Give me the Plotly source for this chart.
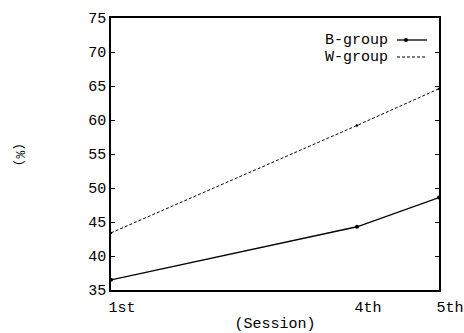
import plotly.graph_objects as go

sessions = [1, 4, 5]
session_labels = ["1st", "4th", "5th"]
b_group = [36.5, 44.3, 48.6]
w_group = [43.4, 59.2, 64.6]

FONT = "Liberation Mono"

W, H = 464, 333
l, r, t, b = 111, 25, 18, 43
pw, ph = W - l - r, H - t - b

def px(xp):
    return (xp - l) / pw

def py(yp):
    return (H - yp - b) / ph

fig = go.Figure()
fig.add_trace(go.Scatter(x=sessions, y=b_group, mode="lines+markers", name="B-group",
                         line=dict(color="black", width=1.3),
                         marker=dict(color="black", size=4), showlegend=False, cliponaxis=False))
fig.add_trace(go.Scatter(x=sessions, y=w_group, mode="lines+markers", name="W-group",
                         line=dict(color="black", width=1, dash="3px,2px"),
                         marker=dict(color="black", size=2.5), showlegend=False, cliponaxis=False))

# legend drawn as text + sample lines (labels right-aligned, samples to the right)
fig.add_annotation(x=px(389), y=py(40), xref="paper", yref="paper", text="B-group", showarrow=False,
                   xanchor="right", yanchor="middle", borderpad=0,
                   font=dict(family=FONT, size=15, color="black"))
fig.add_annotation(x=px(389), y=py(57), xref="paper", yref="paper", text="W-group", showarrow=False,
                   xanchor="right", yanchor="middle", borderpad=0,
                   font=dict(family=FONT, size=15, color="black"))
# y-axis title, reading top to bottom
fig.add_annotation(x=px(20), y=py(155), xref="paper", yref="paper", text="(%)", showarrow=False,
                   textangle=90, xanchor="center", yanchor="middle",
                   font=dict(family=FONT, size=13, color="black"))

fig.update_layout(
    width=W, height=H,
    margin=dict(l=l, r=r, t=t, b=b, autoexpand=False),
    paper_bgcolor="white", plot_bgcolor="white",
    font=dict(family=FONT, size=15, color="black"),
    xaxis=dict(range=[1, 5], tickvals=sessions, ticktext=session_labels,
               showgrid=False, zeroline=False, showline=True, linecolor="black", linewidth=1.5,
               mirror=True, ticks="", ticklabelshift=11, ticklabelstandoff=2,
               ticklabeloverflow="allow", automargin=False,
               title=dict(text="(Session)", standoff=6, font=dict(family=FONT, size=15))),
    yaxis=dict(range=[35, 75], dtick=5, showgrid=False, zeroline=False, showline=True,
               linecolor="black", linewidth=1.5, mirror="allticks", ticks="inside", ticklen=4,
               tickcolor="black", automargin=False),
)

fig.add_shape(type="line", xref="paper", yref="paper", x0=px(397), x1=px(427), y0=py(40), y1=py(40),
              line=dict(color="black", width=1.3))
fig.add_shape(type="circle", xref="paper", yref="paper", x0=px(404), x1=px(408), y0=py(42), y1=py(38),
              fillcolor="black", line=dict(color="black", width=0))
fig.add_shape(type="line", xref="paper", yref="paper", x0=px(397), x1=px(425), y0=py(57), y1=py(57),
              line=dict(color="black", width=1, dash="3px,2px"))

fig.write_html("out.html", config={"displayModeBar": False},
               post_script="document.body.style.margin='0';")
